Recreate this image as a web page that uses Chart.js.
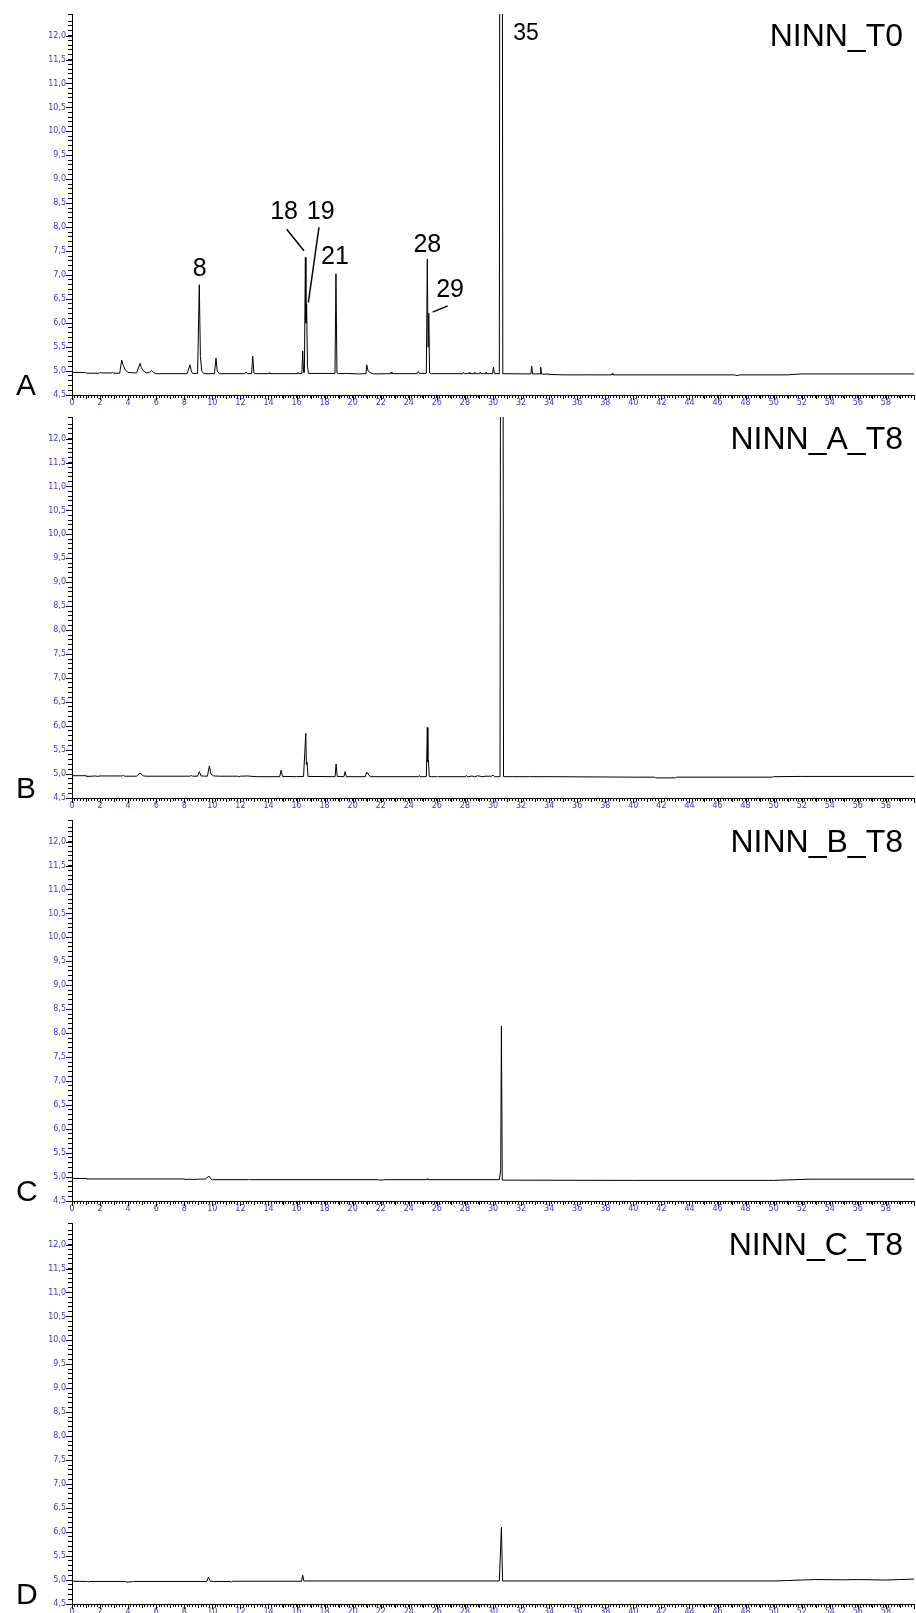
<!DOCTYPE html>
<html>
<head>
<meta charset="utf-8">
<script src="https://cdn.jsdelivr.net/npm/chart.js@4.4.1/dist/chart.umd.min.js"></script>
<style>
  html, body { margin: 0; padding: 0; background: #fff; overflow: hidden; }
  .panel { position: absolute; left: 0; width: 916px; height: 412px; }
</style>
</head>
<body>
<div class="panel" style="top:0px"><canvas id="chartA" width="916" height="412"></canvas></div>
<div class="panel" style="top:403px"><canvas id="chartB" width="916" height="412"></canvas></div>
<div class="panel" style="top:806px"><canvas id="chartC" width="916" height="412"></canvas></div>
<div class="panel" style="top:1209px"><canvas id="chartD" width="916" height="412"></canvas></div>
<script>
// retention time (min) and detector signal
var timeA = [0, 0.95, 1.0, 1.95, 2.0, 2.1, 2.85, 2.9, 2.95, 3.4, 3.54, 3.65, 3.8, 4.0, 4.6, 4.85, 4.95, 5.1, 5.3, 5.5, 5.68, 5.85, 6.0,
  8.2, 8.41, 8.5, 8.6, 8.95, 9.07, 9.15, 9.25, 9.4, 10.15, 10.26, 10.35, 10.5, 12.3, 12.4, 12.5, 12.8, 12.88, 12.96, 13.05,
  14.0, 14.05, 14.1, 16.05, 16.1, 16.15, 16.38, 16.44, 16.5, 16.56, 16.63, 16.67, 16.72, 16.78, 16.85, 18.74, 18.81, 18.88, 19.0,
  19.5, 20.5, 20.95, 21.0, 21.1, 21.3, 21.5, 22.7, 22.75, 22.8, 24.6, 24.68, 24.75, 25.25, 25.32, 25.37, 25.42, 25.48, 25.6,
  27.85, 27.9, 27.95, 28.25, 28.3, 28.35, 28.65, 28.7, 28.75, 29.05, 29.1, 29.15, 29.45, 29.5, 29.55, 29.97, 30.03, 30.1,
  30.45, 30.57, 30.7, 32.7, 32.76, 32.82, 33.35, 33.4, 33.46, 33.85, 33.9, 33.95, 35.0, 37.0, 38.45, 38.5, 38.55,
  47.2, 47.4, 47.6, 51.0, 51.9, 60];
var signalA = [4.97, 4.97, 4.955, 4.955, 4.97, 4.96, 4.96, 4.97, 4.955, 4.955, 5.23, 5.12, 5.02, 4.97, 4.96, 5.16, 5.07, 5.0, 4.96, 4.97, 5.01, 4.96, 4.945,
  4.945, 5.13, 5.0, 4.95, 4.95, 6.80, 5.3, 5.0, 4.945, 4.945, 5.27, 5.0, 4.945, 4.945, 4.98, 4.945, 4.945, 5.31, 4.96, 4.945,
  4.945, 4.965, 4.945, 4.945, 4.97, 4.945, 4.95, 5.42, 4.97, 4.97, 7.37, 6.0, 6.4, 5.1, 4.95, 4.95, 7.03, 4.96, 4.945,
  4.95, 4.94, 4.945, 5.13, 5.0, 4.96, 4.94, 4.945, 4.98, 4.945, 4.945, 4.99, 4.95, 4.95, 7.34, 5.5, 6.21, 4.96, 4.945,
  4.945, 4.97, 4.945, 4.945, 4.97, 4.945, 4.945, 4.975, 4.945, 4.945, 4.98, 4.945, 4.945, 4.98, 4.945, 4.945, 5.08, 4.945,
  4.945, 40, 4.945, 4.94, 5.10, 4.94, 4.94, 5.08, 4.935, 4.935, 4.95, 4.93, 4.92, 4.92, 4.92, 4.95, 4.92,
  4.92, 4.905, 4.92, 4.92, 4.94, 4.94];

var timeB = [0, 1.0, 1.05, 1.7, 1.8, 2.0, 2.8, 3.6, 3.65, 3.75, 4.6, 4.85, 5.1, 5.3, 8.4, 8.5, 8.6, 8.95, 9.07, 9.2, 9.65, 9.79, 9.9, 10.1, 10.5,
  11.8, 11.9, 12.0, 12.5, 12.9, 13.2, 14.8, 14.9, 15.0, 16.0, 16.05, 16.1, 16.5, 16.66, 16.7, 16.75, 16.82, 18.75, 18.82, 18.9,
  19.38, 19.46, 19.55, 20.9, 21.0, 21.1, 21.25, 24.7, 24.75, 24.8, 25.25, 25.32, 25.36, 25.4, 25.46, 25.6, 26.0, 26.05, 26.1,
  28.05, 28.1, 28.2, 28.5, 28.7, 28.9, 29.2, 29.5, 29.9, 30.0, 30.1, 30.5, 30.63, 30.75, 31.3, 31.35, 31.4, 32.6, 32.65, 32.7,
  34.0, 40.0, 41.5, 41.6, 43.0, 43.1, 49.9, 50.0, 52.0, 60];
var signalB = [4.965, 4.965, 4.95, 4.96, 4.95, 4.96, 4.96, 4.96, 4.975, 4.955, 4.955, 5.02, 4.96, 4.955, 4.955, 4.97, 4.955, 4.955, 5.05, 4.96, 4.955, 5.17, 5.0, 4.96, 4.955,
  4.955, 4.94, 4.955, 4.96, 4.95, 4.945, 4.945, 5.08, 4.95, 4.945, 4.96, 4.945, 4.95, 5.85, 5.2, 5.25, 4.95, 4.945, 5.21, 4.95,
  4.945, 5.05, 4.945, 4.945, 5.04, 5.0, 4.945, 4.945, 4.97, 4.945, 4.945, 5.97, 5.25, 5.29, 4.95, 4.945, 4.945, 4.96, 4.945,
  4.945, 4.97, 4.94, 4.96, 4.94, 4.965, 4.945, 4.955, 4.955, 4.98, 4.945, 4.945, 40, 4.945, 4.945, 4.955, 4.945, 4.945, 4.955, 4.945,
  4.945, 4.935, 4.935, 4.92, 4.92, 4.935, 4.935, 4.945, 4.95, 4.95];

var timeC = [0, 1.0, 1.05, 8.0, 8.05, 8.4, 8.6, 9.0, 9.5, 9.76, 9.9, 10.0, 12.6, 12.65, 12.7, 21.8, 21.9, 22.2, 22.3, 25.25, 25.3, 25.35,
  30.45, 30.55, 30.6, 30.66, 30.8, 40.0, 50.0, 51.5, 52.5, 60];
var signalC = [4.97, 4.97, 4.96, 4.96, 4.95, 4.955, 4.95, 4.955, 4.96, 5.02, 4.96, 4.945, 4.945, 4.955, 4.945, 4.945, 4.935, 4.94, 4.945, 4.945, 4.965, 4.945,
  4.945, 5.16, 8.15, 4.94, 4.935, 4.93, 4.93, 4.945, 4.955, 4.955];

var timeD = [0, 1.1, 1.15, 1.2, 3.8, 3.9, 4.3, 4.4, 9.6, 9.72, 9.85, 10.1, 11.3, 11.35, 11.5, 16.35, 16.44, 16.52, 16.7,
  30.45, 30.6, 30.68, 50.0, 51.0, 52.0, 53.0, 55.0, 56.0, 58.0, 59.0, 60];
var signalD = [4.975, 4.97, 4.96, 4.97, 4.97, 4.955, 4.965, 4.97, 4.97, 5.06, 4.975, 4.97, 4.97, 4.96, 4.975, 4.975, 5.1, 4.98, 4.98,
  4.98, 6.1, 4.98, 4.98, 4.99, 5.0, 5.01, 5.005, 5.01, 5.0, 5.01, 5.02];

var panelLetters = ["A", "B", "C", "D"];
var panelTitles = ["NINN_T0", "NINN_A_T8", "NINN_B_T8", "NINN_C_T8"];

// peak numbers in panel A (position in time / signal units)
var peakLabels = ["8", "18", "19", "21", "28", "29", "35"];
var peakLabelTime = [9.10, 15.11, 17.72, 18.74, 25.32, 26.94, 32.35];
var peakLabelSignal = [7.12, 8.31, 8.31, 7.37, 7.63, 6.68, 12.05];
// leader lines: [t0, v0, t1, v1]
var leaderLines = [[15.30, 7.96, 16.53, 7.51], [17.60, 8.00, 16.84, 6.43], [26.77, 6.36, 25.70, 6.23]];

var tickBlue = "#3f35c4";
var fontName = "'Liberation Sans', Arial, sans-serif";
var tickFont = "'DejaVu Sans', sans-serif";

var extraTicks = {
  id: "extraTicks",
  afterDraw: function(chart) {
    var ctx = chart.ctx, x = chart.scales.x, y = chart.scales.y;
    ctx.save();
    ctx.strokeStyle = "#000";
    ctx.lineWidth = 1;
    ctx.beginPath();
    for (var m = 0; m <= 60; m++) {
      var px = Math.round(x.getPixelForValue(m)) + 0.5;
      ctx.moveTo(px, x.top);
      ctx.lineTo(px, x.top + (m % 2 === 0 ? 5 : 4));
    }
    for (var k = 9; k <= 24; k++) {
      var py = Math.round(y.getPixelForValue(k / 2)) + 0.5;
      ctx.moveTo(y.right, py);
      ctx.lineTo(y.right - 6, py);
    }
    ctx.stroke();
    ctx.restore();
  }
};

var panelText = {
  id: "panelText",
  afterDraw: function(chart, args, opts) {
    var ctx = chart.ctx, x = chart.scales.x, y = chart.scales.y;
    ctx.save();
    ctx.fillStyle = "#000";
    ctx.textBaseline = "alphabetic";
    ctx.font = "30px " + fontName;
    ctx.textAlign = "left";
    ctx.fillText(opts.letter, 16, 395);
    ctx.font = "32px " + fontName;
    ctx.textAlign = "right";
    ctx.fillText(opts.title, 903, 46);
    if (opts.peaks) {
      ctx.textAlign = "center";
      ctx.textBaseline = "middle";
      for (var i = 0; i < peakLabels.length; i++) {
        ctx.font = (peakLabels[i] === "35" ? "23px " : "25px ") + fontName;
        ctx.fillText(peakLabels[i], x.getPixelForValue(peakLabelTime[i]), y.getPixelForValue(peakLabelSignal[i]));
      }
      ctx.strokeStyle = "#000";
      ctx.lineWidth = 1.5;
      ctx.beginPath();
      leaderLines.forEach(function(l) {
        ctx.moveTo(x.getPixelForValue(l[0]), y.getPixelForValue(l[1]));
        ctx.lineTo(x.getPixelForValue(l[2]), y.getPixelForValue(l[3]));
      });
      ctx.stroke();
    }
    ctx.restore();
  }
};

function makeChart(id, times, signal, idx) {
  var ctx = document.getElementById(id).getContext("2d");
  return new Chart(ctx, {
    type: "line",
    data: {
      datasets: [{
        data: times.map(function(t, i) { return { x: t, y: signal[i] }; }),
        borderColor: "#000",
        borderWidth: 1,
        pointRadius: 0,
        tension: 0,
        fill: false
      }]
    },
    options: {
      responsive: false,
      animation: false,
      layout: { padding: { top: 14, right: 2, left: 0, bottom: 0 } },
      plugins: {
        legend: { display: false },
        tooltip: { enabled: false },
        panelText: { letter: panelLetters[idx], title: panelTitles[idx], peaks: idx === 0 }
      },
      scales: {
        x: {
          type: "linear",
          min: 0,
          max: 60,
          border: { color: "#000", width: 1 },
          grid: { drawOnChartArea: false, tickLength: 3, color: "#000" },
          ticks: {
            stepSize: 0.2,
            autoSkip: false,
            maxRotation: 0,
            padding: 0,
            color: tickBlue,
            font: { size: 8, family: tickFont },
            callback: function(v) {
              var r = Math.round(v);
              if (Math.abs(v - r) < 1e-6 && r % 2 === 0 && r < 60) return String(r);
              return "";
            }
          },
          afterFit: function(s) { s.height = 17; }
        },
        y: {
          min: 4.5,
          max: 12.45,
          border: { color: "#000", width: 1 },
          grid: { drawOnChartArea: false, tickLength: 4, color: "#000" },
          ticks: {
            stepSize: 0.1,
            autoSkip: false,
            padding: 2,
            color: tickBlue,
            font: { size: 8, family: tickFont },
            callback: function(v) {
              var h = Math.round(v * 2);
              if (Math.abs(v * 2 - h) < 1e-6 && v < 12.4) return (h / 2).toFixed(1).replace(".", ",");
              return "";
            }
          },
          afterFit: function(s) { s.width = 72; }
        }
      }
    },
    plugins: [extraTicks, panelText]
  });
}

makeChart("chartA", timeA, signalA, 0);
makeChart("chartB", timeB, signalB, 1);
makeChart("chartC", timeC, signalC, 2);
makeChart("chartD", timeD, signalD, 3);
</script>
</body>
</html>
